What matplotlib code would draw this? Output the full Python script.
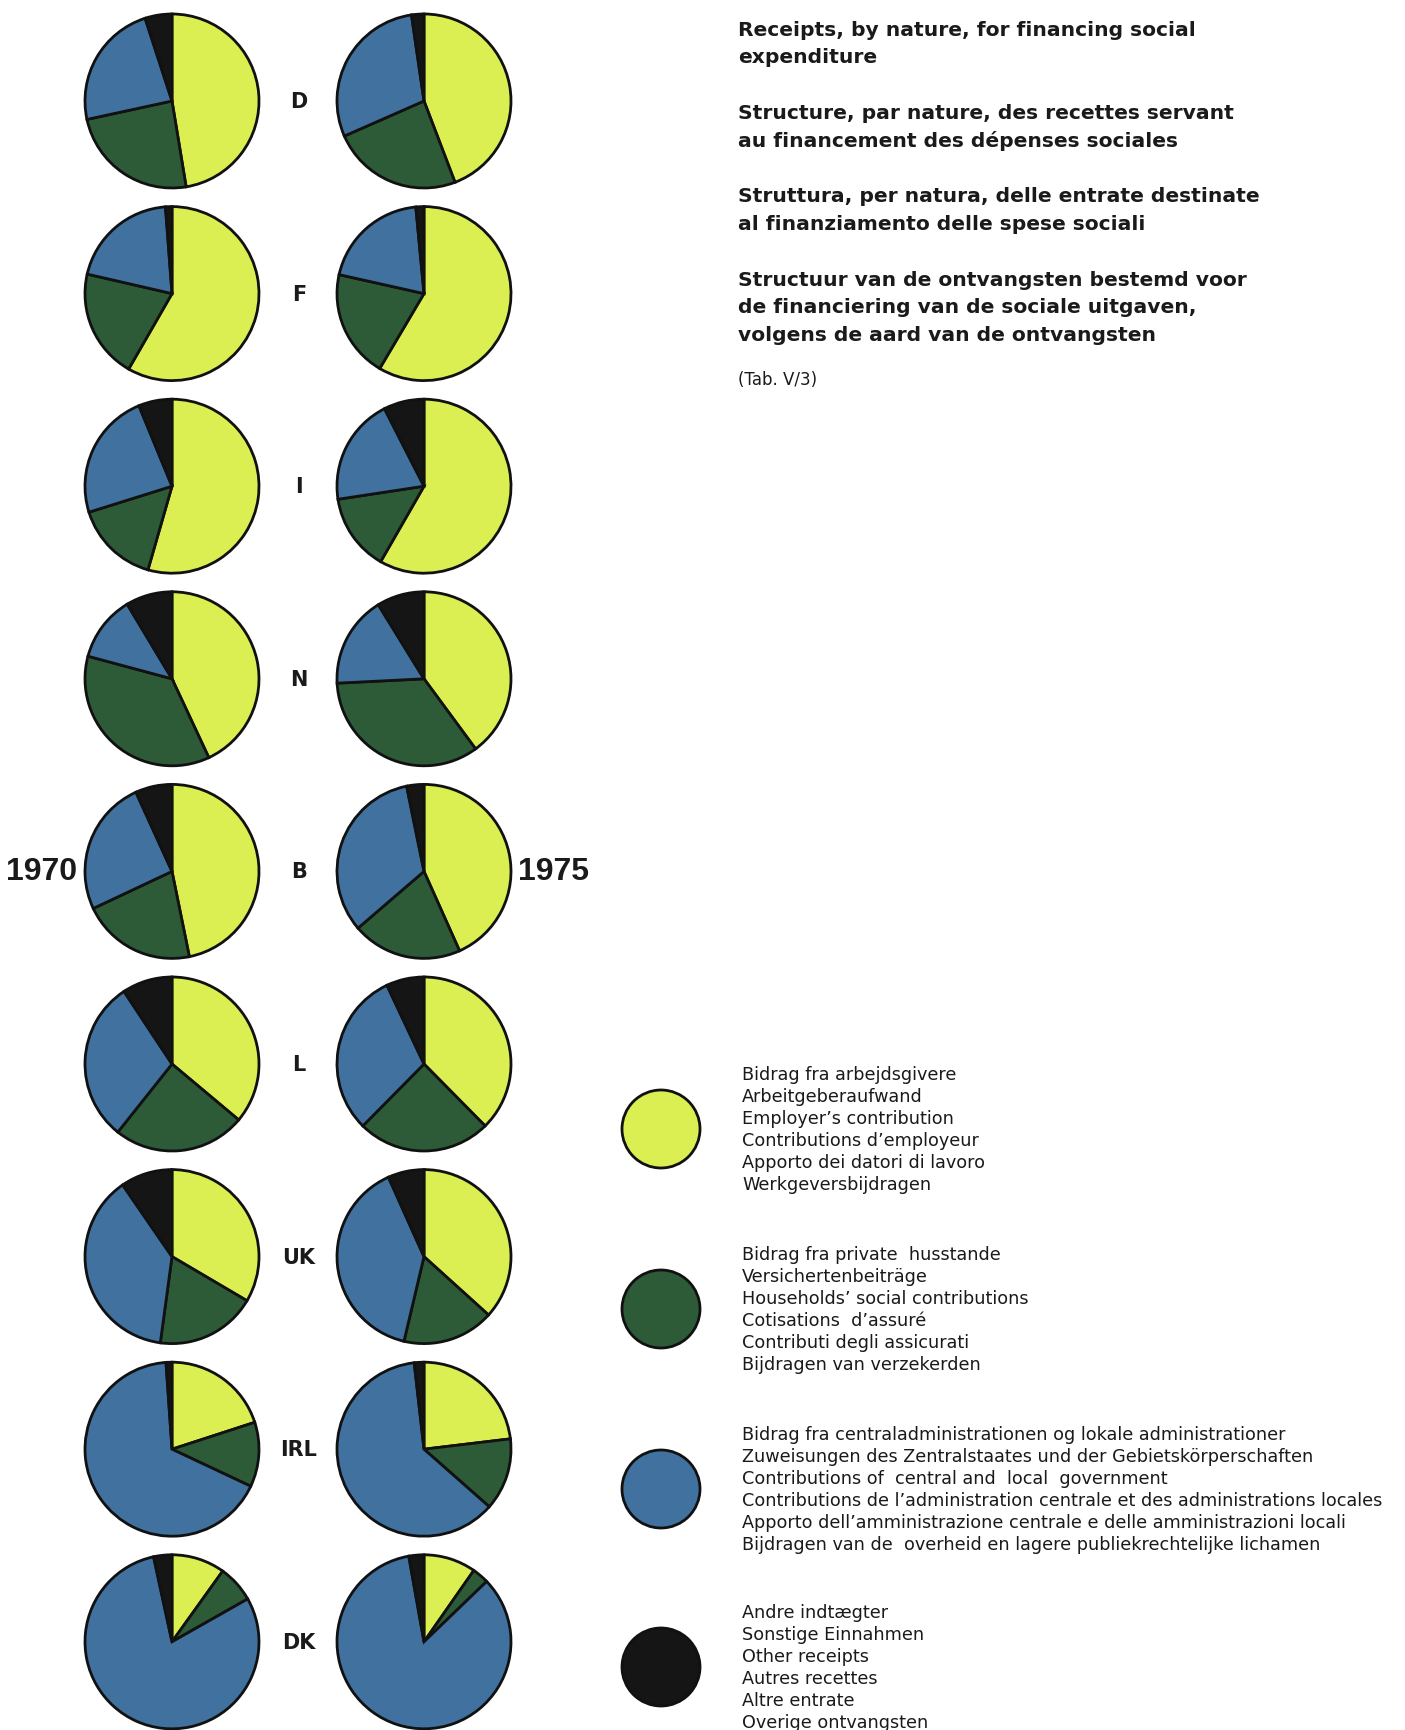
import matplotlib.pyplot as plt

# receipts by nature, % of total, per country
countries = ['D', 'F', 'I', 'N', 'B', 'L', 'UK', 'IRL', 'DK']

employers_1970 = [47.4, 58.3, 54.4, 43.0, 46.8, 36.1, 33.5, 20.0, 9.9]
households_1970 = [24.2, 20.3, 15.7, 36.1, 21.2, 24.6, 18.7, 12.0, 6.9]
government_1970 = [23.4, 20.2, 23.6, 12.2, 25.2, 30.0, 38.3, 66.9, 79.8]
other_1970 = [5.0, 1.2, 6.2, 8.6, 6.8, 9.3, 9.6, 1.1, 3.4]

employers_1975 = [44.2, 58.5, 58.3, 39.9, 43.3, 37.6, 36.7, 23.1, 9.7]
households_1975 = [24.2, 20.0, 14.3, 34.3, 20.4, 24.8, 17.0, 13.4, 3.1]
government_1975 = [29.3, 20.0, 19.9, 17.0, 33.1, 30.6, 39.6, 61.7, 84.4]
other_1975 = [2.3, 1.5, 7.5, 8.8, 3.2, 7.0, 6.7, 1.8, 2.8]

years = ['1970', '1975']

title_lines = [
    ['Receipts, by nature, for financing social', 'expenditure'],
    ['Structure, par nature, des recettes servant', 'au financement des dépenses sociales'],
    ['Struttura, per natura, delle entrate destinate', 'al finanziamento delle spese sociali'],
    ['Structuur van de ontvangsten bestemd voor', 'de financiering van de sociale uitgaven,',
     'volgens de aard van de ontvangsten'],
]
source_note = '(Tab. V/3)'

legend_texts = [
    ['Bidrag fra arbejdsgivere', 'Arbeitgeberaufwand', 'Employer\u2019s contribution',
     'Contributions d\u2019employeur', 'Apporto dei datori di lavoro', 'Werkgeversbijdragen'],
    ['Bidrag fra private  husstande', 'Versichertenbeiträge', 'Households\u2019 social contributions',
     'Cotisations  d\u2019assuré', 'Contributi degli assicurati', 'Bijdragen van verzekerden'],
    ['Bidrag fra centraladministrationen og lokale administrationer',
     'Zuweisungen des Zentralstaates und der Gebietskörperschaften',
     'Contributions of  central and  local  government',
     'Contributions de l\u2019administration centrale et des administrations locales',
     'Apporto dell\u2019amministrazione centrale e delle amministrazioni locali',
     'Bijdragen van de  overheid en lagere publiekrechtelijke lichamen'],
    ['Andre indtægter', 'Sonstige Einnahmen', 'Other receipts', 'Autres recettes',
     'Altre entrate', 'Overige ontvangsten'],
]

colors = ['#dcef52', '#2d5a37', '#40719f', '#151515']

W, H = 1405, 1731
fig = plt.figure(figsize=(W / 100, H / 100), dpi=100)
ax = fig.add_axes([0, 0, 1, 1])


def Y(y):
    return H - y


ink = '#1a1a1a'
row0, row_step = 102, 192.6
col_x = [172, 424]
radius = 87

data_1970 = list(zip(employers_1970, households_1970, government_1970, other_1970))
data_1975 = list(zip(employers_1975, households_1975, government_1975, other_1975))

for i, c in enumerate(countries):
    yc = row0 + row_step * i
    for x, vals in zip(col_x, [data_1970[i], data_1975[i]]):
        ax.pie(vals, colors=colors, center=(x, Y(yc)), radius=radius,
               startangle=90, counterclock=False, frame=True,
               wedgeprops=dict(edgecolor='#111111', linewidth=2.0))
    ax.text(299, Y(yc), c, ha='center', va='center', fontsize=15,
            fontweight='bold', family='DejaVu Sans', color=ink)

# year labels beside the Belgian row
yb = row0 + row_step * 4
ax.text(42, Y(yb), years[0], ha='center', va='center', fontsize=23,
        fontweight='bold', family='Liberation Sans', color=ink)
ax.text(553, Y(yb), years[1], ha='center', va='center', fontsize=23,
        fontweight='bold', family='Liberation Sans', color=ink)

# title block
block_starts = [30, 113, 197, 280]
for start, lines in zip(block_starts, title_lines):
    for k, line in enumerate(lines):
        ax.text(738, Y(start + 27.8 * k), line, ha='left', va='center',
                fontsize=14.6, fontweight='bold', family='DejaVu Sans',
                color=ink)
ax.text(738, Y(380), source_note, ha='left', va='center', fontsize=12,
        family='DejaVu Sans', color=ink)

# legend
legend_starts = [1075, 1255, 1435, 1613]
for start, lines, col in zip(legend_starts, legend_texts, colors):
    circ = plt.Circle((661, Y(start + 55)), 39, facecolor=col,
                      edgecolor='#111111', linewidth=2.0)
    ax.add_patch(circ)
    for k, line in enumerate(lines):
        ax.text(742, Y(start + 22 * k), line, ha='left', va='center',
                fontsize=12.7, family='DejaVu Sans', color=ink)

ax.set_xlim(0, W)
ax.set_ylim(0, H)
ax.set_aspect('equal')
ax.axis('off')

fig.savefig('out.png', dpi=100, facecolor='white')
